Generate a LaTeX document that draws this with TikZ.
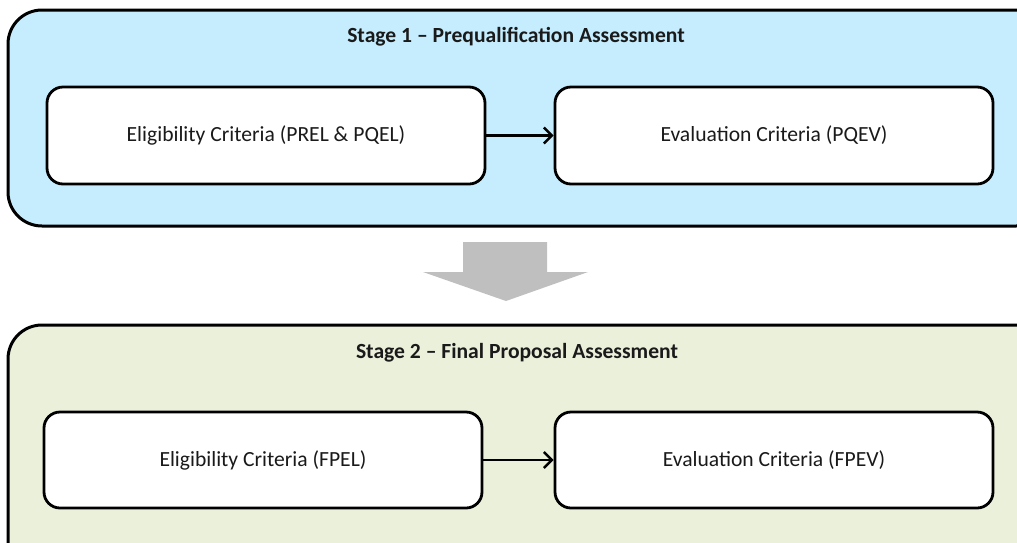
\documentclass[tikz,border=0pt]{standalone}
\usepackage{fontspec}
\setmainfont{Carlito}
\usetikzlibrary{arrows.meta}
\definecolor{stageblue}{HTML}{C5EDFE}
\definecolor{stageolive}{HTML}{EBF0DB}
\definecolor{flowgray}{HTML}{BFBFBF}
\definecolor{inktext}{HTML}{1A1A1A}
\begin{document}
\begin{tikzpicture}[x=1pt,y=-1pt,
  stagebox/.style={draw=black,line width=3pt,rounded corners=34pt},
  critbox/.style={draw=black,fill=white,line width=2.8pt,rounded corners=16pt},
  stagetitle/.style={font=\fontsize{21.6}{26}\selectfont\bfseries,text=inktext,inner sep=0pt},
  crittext/.style={font=\fontsize{21.6}{26}\selectfont,text=inktext,inner sep=0pt},
  flow/.style={draw=black,line width=2.4pt,-{Straight Barb[length=8pt,width=16pt,line width=2.4pt]}}]
\useasboundingbox (0,0) rectangle (1017,542);
\clip (0,0) rectangle (1017,542);
% stage panels
\path[stagebox,fill=stageblue] (8,10) rectangle (1050,226);
\path[stagebox,fill=stageolive] (8,325) rectangle (1050,575);
% stage titles
\node[stagetitle] (t1) at (516,37) {Stage 1 – Prequalification Assessment};
\node[stagetitle] (t2) at (517,353) {Stage 2 – Final Proposal Assessment};
% criteria boxes, stage 1
\node[critbox,minimum width=438pt,minimum height=97pt] (s1a) at (266,135.5) {};
\node[crittext] at (s1a) {Eligibility Criteria (PREL \& PQEL)};
\node[critbox,minimum width=438pt,minimum height=97pt] (s1b) at (774,135.5) {};
\node[crittext] at (s1b) {Evaluation Criteria (PQEV)};
% criteria boxes, stage 2
\node[critbox,minimum width=438pt,minimum height=96pt] (s2a) at (263,460) {};
\node[crittext] at (s2a) {Eligibility Criteria (FPEL)};
\node[critbox,minimum width=438pt,minimum height=96pt] (s2b) at (774,460) {};
\node[crittext] at (s2b) {Evaluation Criteria (FPEV)};
% connectors
\draw[flow] (s1a.east) -- (s1b.west);
\draw[flow] (s2a.east) -- (s2b.west);
% block arrow between the stages
\fill[flowgray] (463,242) -- (547,242) -- (547,272) -- (588,272) -- (506,301) -- (423,272) -- (463,272) -- cycle;
\end{tikzpicture}
\end{document}
